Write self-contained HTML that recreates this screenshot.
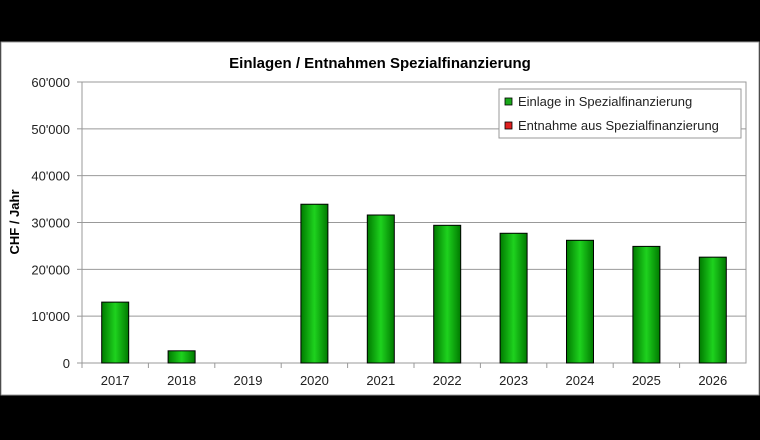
<!DOCTYPE html>
<html><head><meta charset="utf-8"><style>
body{margin:0;background:#000;width:760px;height:440px;overflow:hidden;font-family:"Liberation Sans",Arial,sans-serif}
svg{display:block}
</style></head><body>
<svg width="760" height="440">
<defs><linearGradient id="g" x1="0" x2="1"><stop offset="0" stop-color="#007a00"/><stop offset="0.5" stop-color="#1ed21e"/><stop offset="1" stop-color="#007a00"/></linearGradient></defs>
<rect x="0" y="0" width="760" height="440" fill="#000"/>
<rect x="1" y="42" width="758" height="353" fill="#fff" stroke="#999"/>
<text x="380" y="68" text-anchor="middle" font-size="15" font-weight="bold" fill="#000">Einlagen / Entnahmen Spezialfinanzierung</text>
<rect x="82" y="82" width="664" height="281" fill="#fff" stroke="#999"/>
<g id="grid"></g><g id="bars"></g><g id="axes"></g>
<text transform="translate(19,222) rotate(-90)" text-anchor="middle" font-size="13" font-weight="bold">CHF / Jahr</text>
<g>
<rect x="499" y="89" width="242" height="49" fill="#fff" stroke="#999"/>
<rect x="505" y="98" width="7" height="7" fill="#1aa81a" stroke="#000" stroke-width="0.8"/>
<text x="518" y="106" font-size="13" fill="#222">Einlage in Spezialfinanzierung</text>
<rect x="505" y="122" width="7" height="7" fill="#e02020" stroke="#000" stroke-width="0.8"/>
<text x="518" y="130" font-size="13" fill="#222">Entnahme aus Spezialfinanzierung</text>
</g>
</svg>
<script>
const categories=["2017","2018","2019","2020","2021","2022","2023","2024","2025","2026"];
const einlage=[13000,2600,0,33900,31600,29400,27700,26200,24900,22600];
const yTicks=[0,10000,20000,30000,40000,50000,60000];
const yTickLabels=["0","10'000","20'000","30'000","40'000","50'000","60'000"];
const NS="http://www.w3.org/2000/svg";
const L=82,R=746,T=82,B=363,YMAX=60000;
const y=v=>B-(v/YMAX)*(B-T);
const bw=(R-L)/categories.length;
const x=i=>L+bw*i;
function mk(tag,attrs,parent){const e=document.createElementNS(NS,tag);for(const k in attrs)e.setAttribute(k,attrs[k]);document.getElementById(parent).appendChild(e);return e;}
yTicks.forEach((v,i)=>{
 if(v>0&&v<YMAX){const g=mk('line',{x1:L,x2:R,y1:y(v),y2:y(v),stroke:'#999'},'grid');
 
 }
 const t=mk('line',{x1:L-5,x2:L,y1:y(v),y2:y(v),stroke:'#999'},'axes');
 
 
 const lb=mk('text',{x:L-12,y:y(v)+5,'text-anchor':'end','font-size':13,fill:'#222'},'axes');
 lb.textContent=yTickLabels[i];
 
 
});
categories.forEach((c,i)=>{
 const t=mk('line',{x1:x(i),x2:x(i),y1:B,y2:B+5,stroke:'#999'},'axes');
 
 
 const lb=mk('text',{x:x(i)+bw/2,y:B+22,'text-anchor':'middle','font-size':13,fill:'#222'},'axes');
 lb.textContent=c;
 
 
 if(einlage[i]>0){
  const w=27;
  const b=mk('rect',{x:x(i)+bw/2-w/2,y:y(einlage[i]),width:w,height:B-y(einlage[i]),fill:'url(#g)',stroke:'#000','stroke-width':1},'bars');
  
  
 }
});
</script>
</body></html>
